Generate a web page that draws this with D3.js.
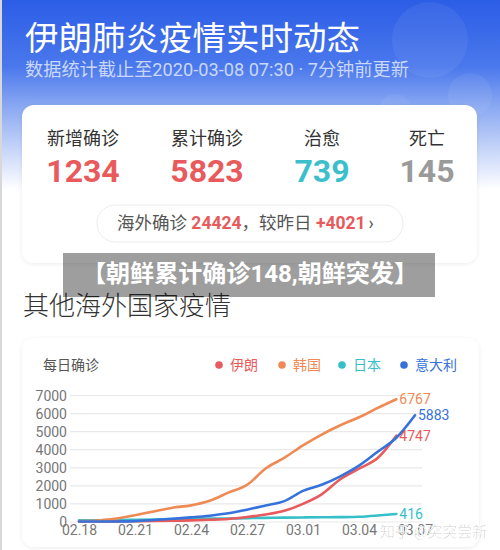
<!DOCTYPE html>
<html><head><meta charset="utf-8">
<script src="https://cdn.jsdelivr.net/npm/d3@7"></script>
<style>
html,body{margin:0;padding:0;background:#fff;}
svg{display:block;font-family:Roboto,"Noto Sans CJK SC",sans-serif;}
</style></head>
<body><svg id="c" width="500" height="550"></svg>
<script>
// ---- data ----
const dates = ["02.18","02.19","02.20","02.21","02.22","02.23","02.24","02.25","02.26","02.27","02.28","02.29","03.01","03.02","03.03","03.04","03.05","03.06","03.07"];
const tickDates = ["02.18","02.21","02.24","02.27","03.01","03.04","03.07"];
const yTicks = [0,1000,2000,3000,4000,5000,6000,7000];
const seriesNames = ["伊朗","韩国","日本","意大利"];
const seriesColors = ["#e85a5c","#f08a55","#36bfc9","#3572dc"];
const iran  = [0,2,5,18,28,43,61,95,139,245,388,593,978,1501,2336,2922,3513,4747];
const korea = [31,58,170,346,556,763,893,1146,1595,2022,2931,3526,4212,4812,5328,5766,6284,6767];
const japan = [65,73,84,93,105,132,144,157,164,186,200,215,225,232,240,262,330,416];
const italy = [3,3,3,20,79,152,229,322,453,655,888,1128,1694,2036,2502,3089,3858,4636,5883];
const seriesValues = [iran, korea, japan, italy];
const stats = [
  {label:"新增确诊", value:"1234", color:"#e85a5c"},
  {label:"累计确诊", value:"5823", color:"#e85a5c"},
  {label:"治愈", value:"739", color:"#3bbfcc"},
  {label:"死亡", value:"145", color:"#9a9a9a"}
];

const svg = d3.select("#c");
const defs = svg.append("defs");
const g = defs.append("linearGradient").attr("id","hdr").attr("x1",0).attr("y1",0).attr("x2",0).attr("y2",1);
g.append("stop").attr("offset","0").attr("stop-color","#2c5de6");
g.append("stop").attr("offset","0.35").attr("stop-color","#4a78ec");
g.append("stop").attr("offset","0.55").attr("stop-color","#87a6f2");
g.append("stop").attr("offset","1").attr("stop-color","#ffffff");
const sh = defs.append("filter").attr("id","sh").attr("x","-10%").attr("y","-10%").attr("width","120%").attr("height","130%");
sh.append("feDropShadow").attr("dx",0).attr("dy",1).attr("stdDeviation",2).attr("flood-color","#000").attr("flood-opacity",0.08);

svg.append("rect").attr("width",500).attr("height",550).attr("fill","#ffffff");
svg.append("rect").attr("width",500).attr("height",190).attr("fill","url(#hdr)");
// faint decoration
[[430,40,38],[470,95,22],[395,110,16]].forEach(c=>svg.append("circle").attr("cx",c[0]).attr("cy",c[1]).attr("r",c[2]).attr("fill","#ffffff").attr("opacity",0.06));
svg.append("rect").attr("x",0).attr("y",0).attr("width",2).attr("height",550).attr("fill","#d8d8d8");

svg.append("text").attr("x",25).attr("y",50).attr("fill","#fff").attr("font-size",33.5).attr("font-family","'Noto Sans CJK SC'").text("伊朗肺炎疫情实时动态");
svg.append("text").attr("x",25).attr("y",76).attr("fill","#c9d7fa").attr("font-size",18.2).text("数据统计截止至2020-03-08 07:30 · 7分钟前更新");

// top card
svg.append("rect").attr("x",22).attr("y",105).attr("width",455).attr("height",158).attr("rx",12).attr("fill","#fff").attr("filter","url(#sh)");
const cx = [83,207,322,427];
stats.forEach((s,i)=>{
  svg.append("text").attr("x",cx[i]).attr("y",145).attr("text-anchor","middle").attr("font-size",18).attr("fill","#333").text(s.label);
  svg.append("text").attr("x",cx[i]).attr("y",182).attr("text-anchor","middle").attr("font-size",32).attr("font-weight","bold").attr("fill",s.color).attr("font-family","Roboto").text(s.value);
});
svg.append("rect").attr("x",97).attr("y",205).attr("width",306).attr("height",37).attr("rx",18.5).attr("fill","#fff").attr("stroke","#ececec");
const pill = svg.append("text").attr("x",117).attr("y",229).attr("font-size",17.5).attr("fill","#555");
pill.append("tspan").text("海外确诊 ");
pill.append("tspan").attr("fill","#e85a5c").attr("font-weight","bold").text("24424");
pill.append("tspan").text("，较昨日 ");
pill.append("tspan").attr("fill","#e85a5c").attr("font-weight","bold").text("+4021");
pill.append("tspan").attr("dx",3).text("›");

// section title
svg.append("text").attr("x",23).attr("y",315).attr("font-size",26).attr("fill","#333").attr("font-weight",300).text("其他海外国家疫情");

// banner
svg.append("rect").attr("x",63).attr("y",253).attr("width",372).attr("height",44).attr("fill","#000").attr("opacity",0.38);
svg.append("text").attr("x",82).attr("y",282).attr("font-size",23.5).attr("font-weight","bold").attr("fill","#fff")
  .attr("textLength",336).attr("lengthAdjust","spacingAndGlyphs").text("【朝鲜累计确诊148,朝鲜突发】");

// chart card
svg.append("rect").attr("x",22).attr("y",338).attr("width",457).attr("height",209).attr("rx",12).attr("fill","#fff").attr("filter","url(#sh)");
svg.append("text").attr("x",43).attr("y",370).attr("font-size",14).attr("fill","#555").text("每日确诊");

// legend
const legX = [219,282,342,404];
seriesNames.forEach((n,i)=>{
  svg.append("circle").attr("cx",legX[i]).attr("cy",365).attr("r",3.8).attr("fill",seriesColors[i]);
  svg.append("text").attr("x",legX[i]+11).attr("y",370).attr("font-size",14).attr("fill",seriesColors[i]).text(n);
});

const x = d3.scalePoint().domain(dates).range([79,415]);
const y = d3.scaleLinear().domain([0,7000]).range([521.5,395]);

// grid
const yAxis = d3.axisLeft(y).tickValues(yTicks).tickSize(-352).tickFormat(d3.format("d"));
const ya = svg.append("g").attr("transform","translate(70,0)").call(yAxis);
ya.select(".domain").remove();
ya.selectAll(".tick line").attr("stroke","#e9e9e9").attr("stroke-width",1.2);
ya.selectAll(".tick text").attr("x",-3).attr("dy","0.36em").attr("font-size",14).attr("fill","#777").attr("font-family","Roboto");

const xAxis = d3.axisBottom(x).tickValues(tickDates).tickSize(0);
const xa = svg.append("g").attr("transform","translate(0,521.5)").call(xAxis);
xa.select(".domain").remove();
xa.selectAll(".tick text").attr("y",4).attr("dy","0.71em").attr("font-size",14).attr("fill","#777").attr("font-family","Roboto");

const line = d3.line().x((d,i)=>x(dates[i])).y(d=>y(d)).curve(d3.curveMonotoneX);
[2,0,1,3].forEach(i=>{
  svg.append("path").attr("d",line(seriesValues[i])).attr("fill","none").attr("stroke",seriesColors[i]).attr("stroke-width",2.6).attr("stroke-linecap","round");
});
// end labels
seriesValues.forEach((v,i)=>{
  const last = v.length-1;
  svg.append("text").attr("x",x(dates[last])+3).attr("y",y(v[last])).attr("dy","0.36em")
    .attr("font-size",14).attr("fill",seriesColors[i]).attr("font-family","Roboto").text(v[last]);
});

// watermark
svg.append("text").attr("x",380).attr("y",537).attr("font-size",15).attr("fill","#bdbdbd").attr("stroke","#fff").attr("stroke-width",0.6).attr("opacity",0.9).text("知乎 @突突尝新");
</script></body></html>
